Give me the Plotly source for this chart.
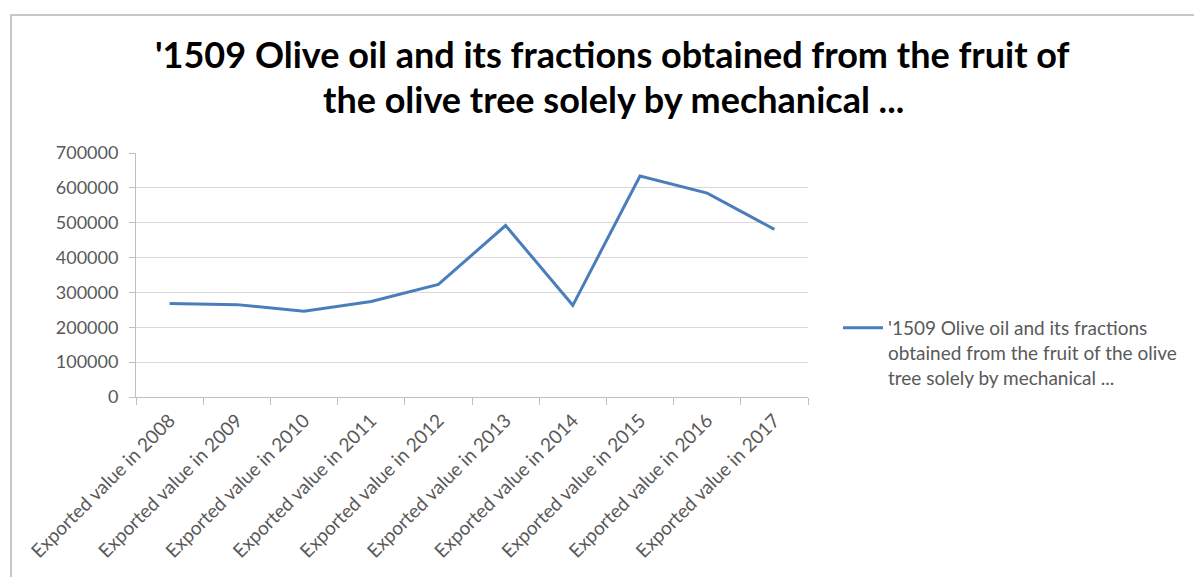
import plotly.graph_objects as go

categories = ["Exported value in 2008", "Exported value in 2009", "Exported value in 2010",
              "Exported value in 2011", "Exported value in 2012", "Exported value in 2013",
              "Exported value in 2014", "Exported value in 2015", "Exported value in 2016",
              "Exported value in 2017"]
values = [268000, 265000, 246000, 274000, 323000, 492000, 263000, 634000, 585000, 481000]
series_name = "'1509 Olive oil and its fractions<br>obtained from the fruit of the olive<br>tree solely by mechanical ..."
title_line1 = "'1509 Olive oil and its fractions obtained from the fruit of"
title_line2 = "the olive tree solely by mechanical ..."
y_ticks = [0, 100000, 200000, 300000, 400000, 500000, 600000, 700000]

W, H = 1202, 577
OFF = 8  # page body margin
L, R, T, B = 136 - OFF, 808 - OFF, 153 - OFF, 397 - OFF

def px_x(p):
    return (p - OFF - L) / (R - L)

def px_y(p):
    return (B - (p - OFF)) / (B - T)

fig = go.Figure()
fig.add_trace(go.Scatter(x=categories, y=values, mode="lines", name=series_name,
                         line=dict(color="#4a7ebb", width=3), showlegend=True))

grey = "#595959"
fig.update_layout(
    width=W, height=H,
    margin=dict(l=L, r=W - R, t=T, b=H - B, pad=0),
    paper_bgcolor="white", plot_bgcolor="white",
    font=dict(family="Lato, Carlito, sans-serif", color=grey),
    showlegend=True,
    legend=dict(x=px_x(838), y=px_y(309), xanchor="left", yanchor="top",
                font=dict(size=19, color=grey), valign="top",
                bgcolor="rgba(0,0,0,0)", itemwidth=40),
    xaxis=dict(type="category", tickangle=-45, tickson="boundaries", ticks="outside",
               ticklen=7, tickcolor="#bfbfbf", showline=True, linecolor="#bfbfbf", linewidth=1,
               showgrid=False, tickfont=dict(size=19, color=grey), range=[-0.5, 9.5],
               ticklabelstandoff=4),
    yaxis=dict(range=[0, 700000], tickvals=y_ticks, ticktext=[str(v) for v in y_ticks],
               ticks="outside", ticklen=6, tickcolor="#bfbfbf", showline=True,
               linecolor="#bfbfbf", linewidth=1, gridcolor="#d9d9d9", gridwidth=1,
               zeroline=False, tickfont=dict(size=18, color=grey), ticklabelstandoff=7),
    annotations=[
        dict(text="<b>" + title_line1 + "</b>", xref="paper", yref="paper",
             x=px_x(612), y=px_y(54), xanchor="center", yanchor="middle", showarrow=False,
             font=dict(size=36, color="#000000", family="Lato, Carlito, sans-serif")),
        dict(text="<b>" + title_line2 + "</b>", xref="paper", yref="paper",
             x=px_x(613), y=px_y(99), xanchor="center", yanchor="middle", showarrow=False,
             font=dict(size=36, color="#000000", family="Lato, Carlito, sans-serif")),
    ],
    shapes=[dict(type="rect", xref="paper", yref="paper",
                 x0=px_x(11), x1=px_x(1240), y0=px_y(610), y1=px_y(15),
                 line=dict(color="#c8c8c8", width=2), fillcolor="rgba(0,0,0,0)", layer="below")],
)

fig.write_html("out.html")
